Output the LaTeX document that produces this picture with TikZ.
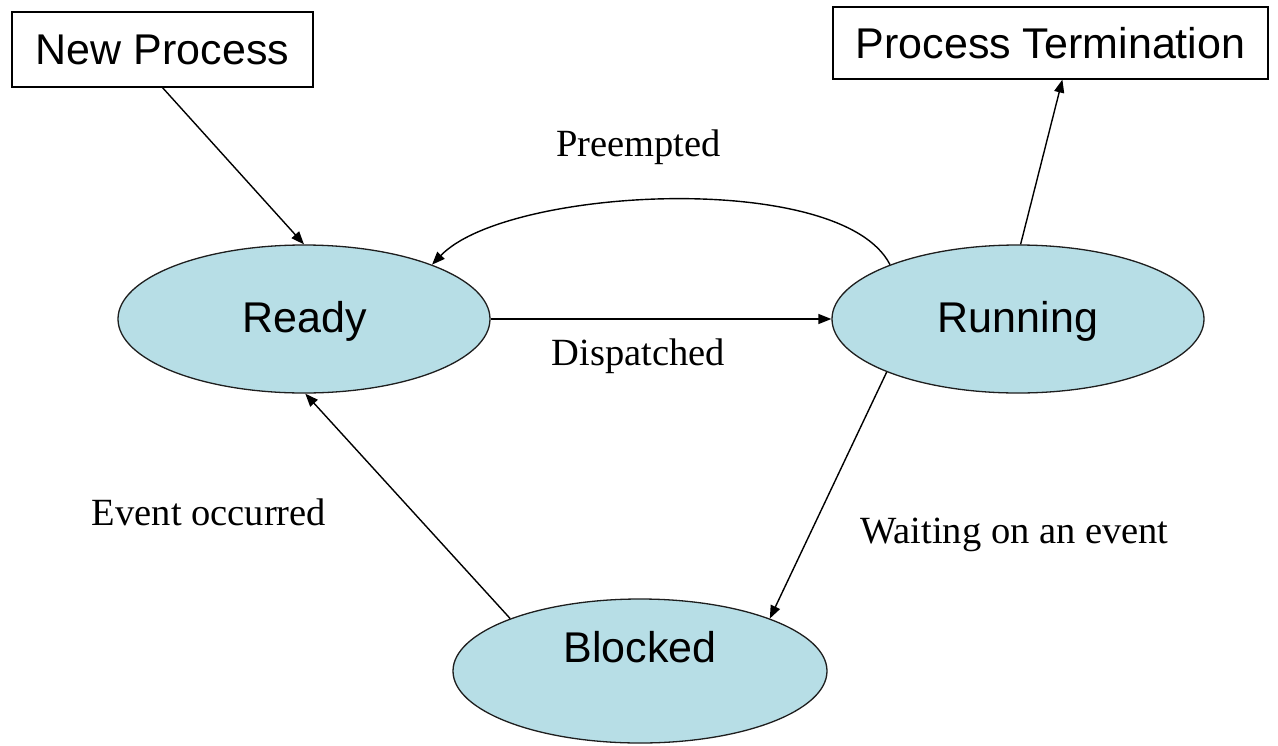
\documentclass[tikz,border=0pt]{standalone}
\usepackage{fontspec}
\setmainfont{Liberation Serif}
\setsansfont{Liberation Sans}
\usetikzlibrary{shapes.geometric,arrows.meta}
\definecolor{statefill}{RGB}{183,222,230}
\definecolor{edgecol}{RGB}{30,30,30}
\tikzset{
  state/.style={ellipse, draw=edgecol, line width=1.3pt, fill=statefill,
    inner sep=0pt, minimum width=372pt, minimum height=148pt},
  statetext/.style={anchor=base, font=\sffamily\fontsize{43}{43}\selectfont},
  termbox/.style={rectangle, draw=black, line width=1.2pt, fill=white,
    inner sep=0pt, font=\sffamily\fontsize{43}{43}\selectfont},
  edgelabel/.style={anchor=base, font=\fontsize{38.5}{38.5}\selectfont},
  trans/.style={draw=black, line width=1.4pt, -{Triangle[length=13pt,width=10pt]}}
}
\begin{document}
\begin{tikzpicture}[x=1pt,y=-1pt]
  \path[use as bounding box, fill=white] (0,0) rectangle (1278,745);

  % entry and exit boxes
  \node[termbox, minimum width=301pt, minimum height=75pt] (newp) at (162.5,49.5) {New Process};
  \node[termbox, minimum width=435pt, minimum height=72pt] (term) at (1050.5,43) {Process Termination};

  % process states
  \node[state] (ready) at (304,319) {};
  \node[state] (run) at (1018,319) {};
  \node[state, minimum width=374pt, minimum height=144pt] (blk) at (640,671) {};

  \node[statetext] (readyt) at (305,332) {Ready};
  \node[statetext] (runt) at (1018,332) {Running};
  \node[statetext] (blkt) at (640,662) {Blocked};

  % transitions
  \draw[trans] (newp.south) -- (ready.north);
  \draw[trans] (run.88) -- (term.-72);
  \draw[trans] (ready.east) -- (run.west);
  \draw[trans] (run.157) .. controls +(-48,-95) and +(75,-78) .. (ready.23);
  \draw[trans] (run.202) -- (blk.22);
  \draw[trans] (blk.158) -- (ready.-89);

  % transition labels
  \node[edgelabel] (lpre) at (638.5,156) {Preempted};
  \node[edgelabel] (ldis) at (638.5,365) {Dispatched};
  \node[edgelabel] (levt) at (209,525) {Event occurred};
  \node[edgelabel] (lwait) at (1014.5,543) {Waiting on an event};
\end{tikzpicture}
\end{document}
